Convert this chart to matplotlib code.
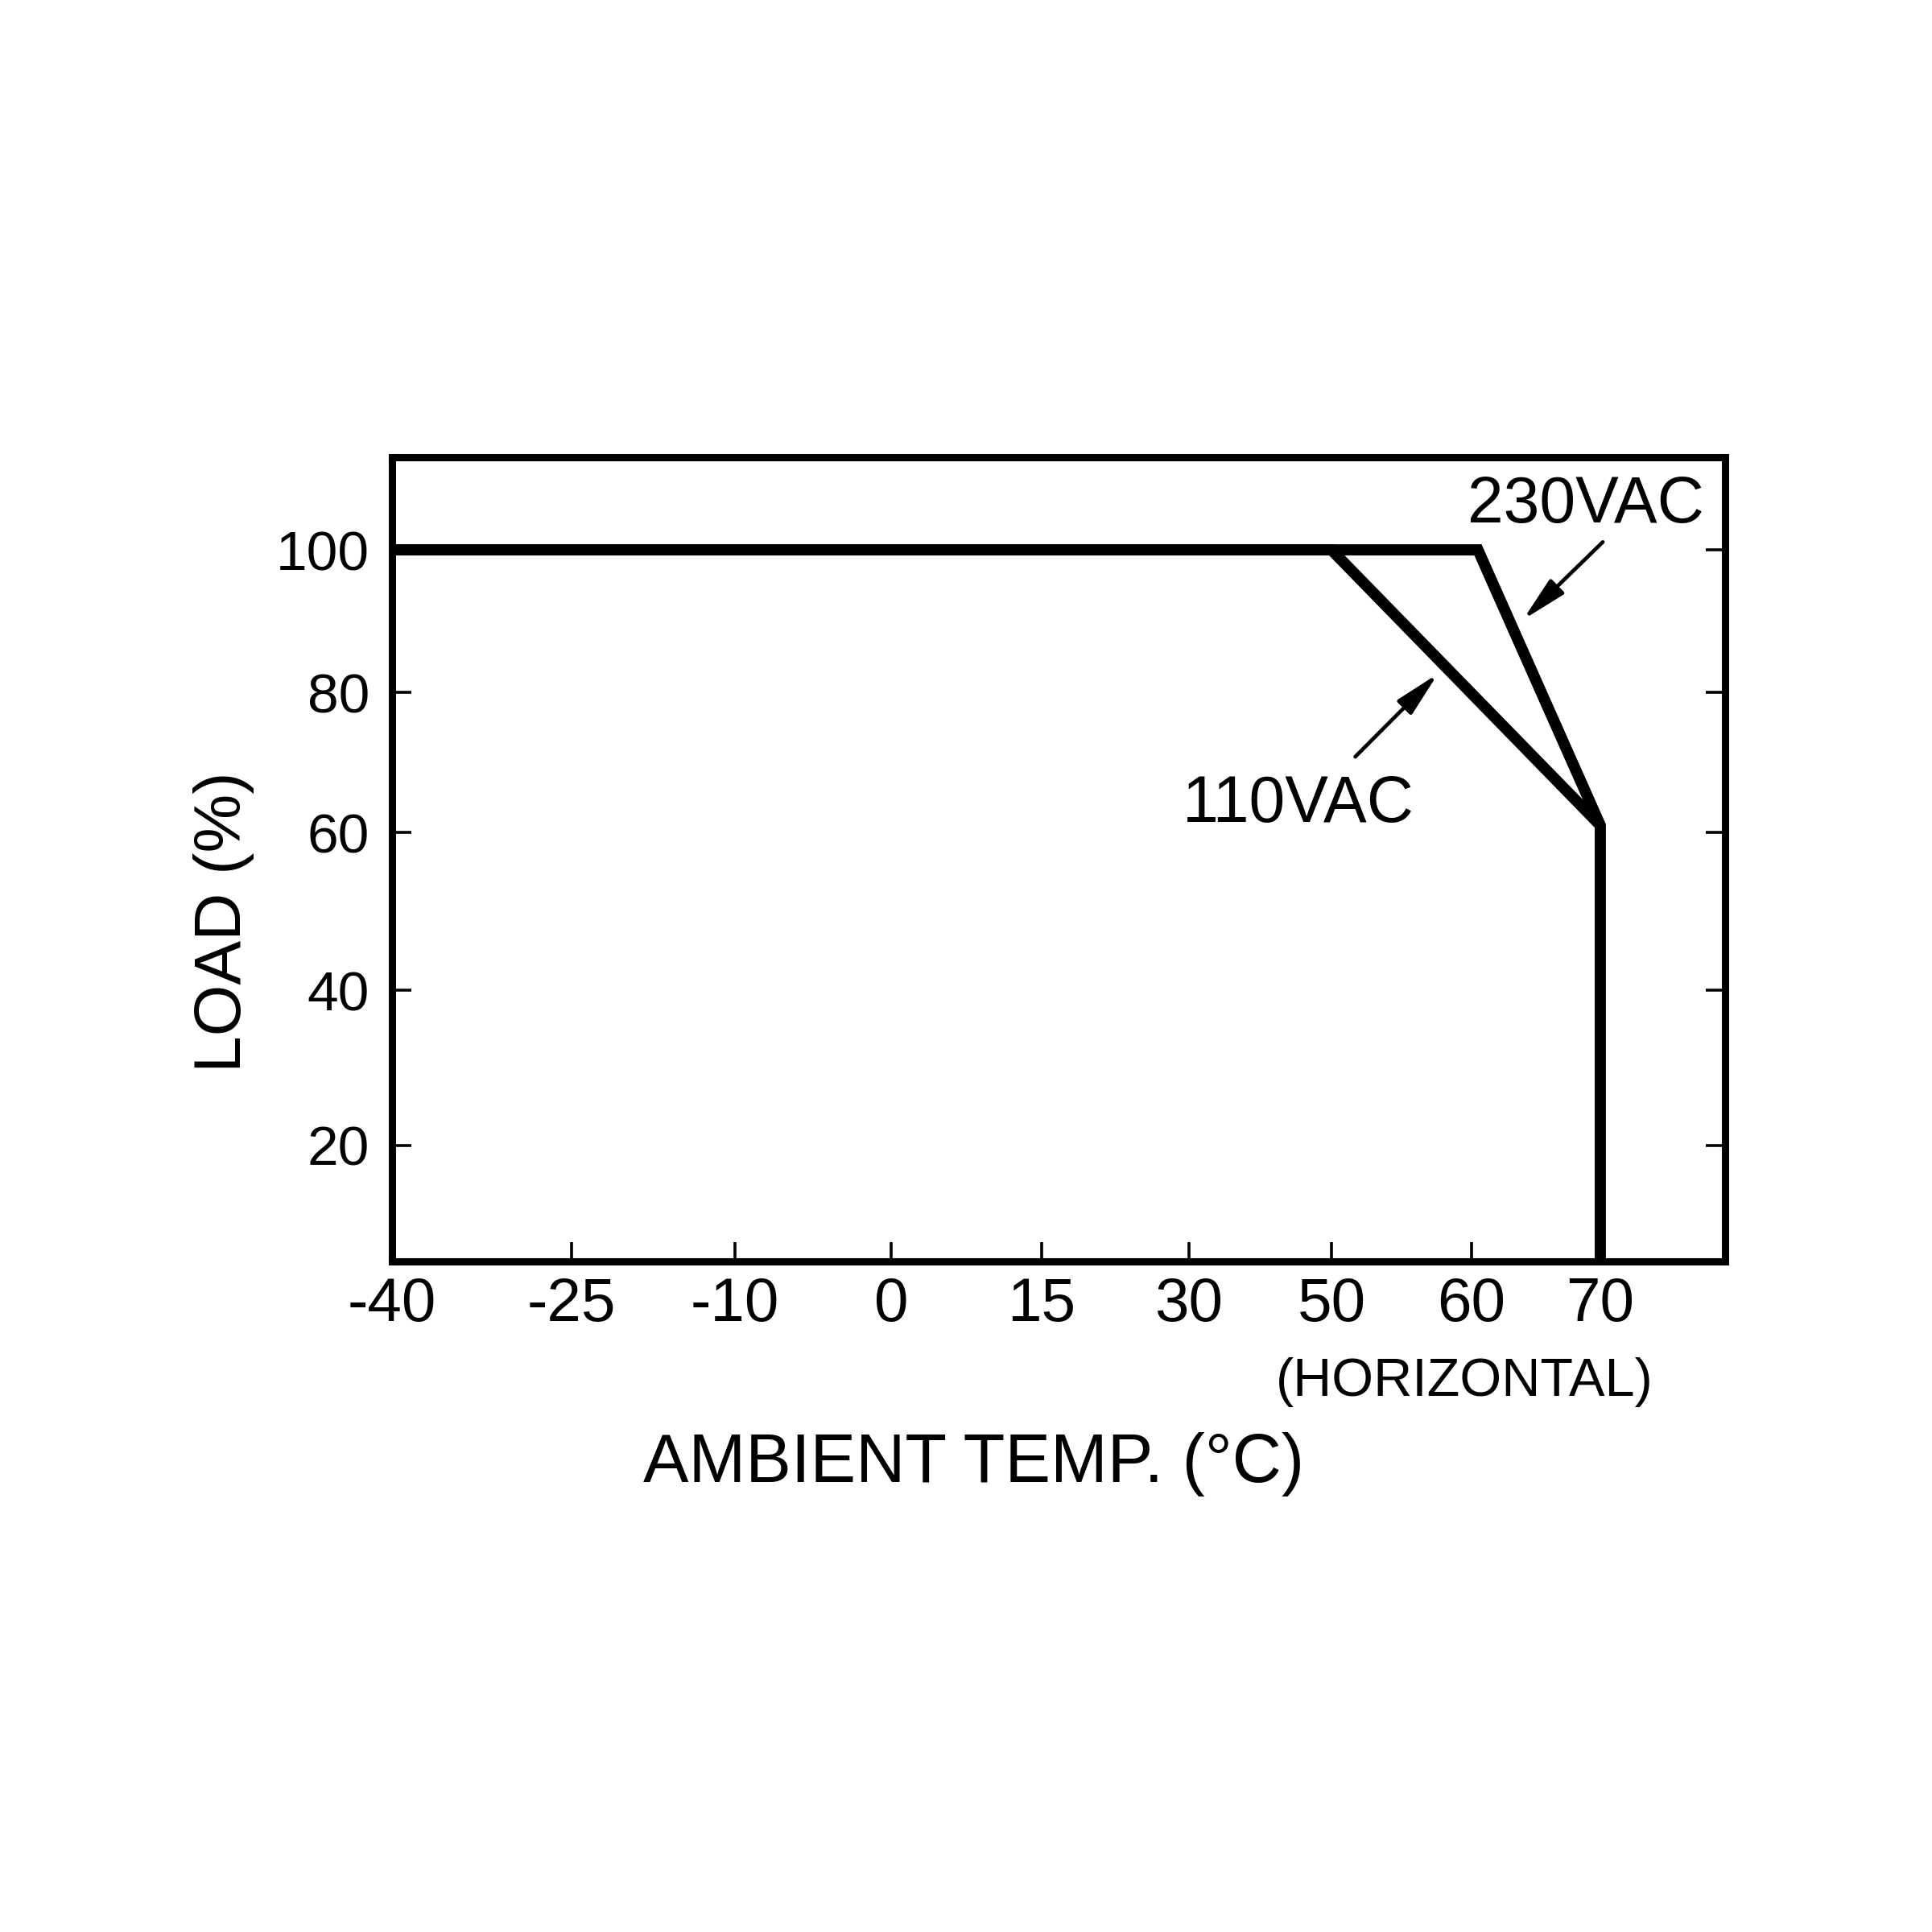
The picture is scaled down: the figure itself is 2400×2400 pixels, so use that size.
import numpy as np
import matplotlib.pyplot as plt

# derating curves (ambient temp in C, load in %)
temp_230 = [-40, 60.5, 70, 70]
load_230 = [100, 100, 61, 0]
temp_110 = [-40, 50, 70]
load_110 = [100, 100, 61]

x_ticks = [-40, -25, -10, 0, 15, 30, 50, 60, 70]
y_ticks = [20, 40, 60, 80, 100]

# the printed axes are not evenly spaced, so map values to where the ticks sit
x_break_vals = [-40, -25, -10, 0, 15, 30, 50, 60, 70, 80]
x_break_pos = [487, 710, 913, 1107, 1294, 1477, 1654, 1828, 1988, 2143]
y_break_vals = [5, 20, 40, 60, 80, 100, 113]
y_break_pos = [-1567, -1423, -1230, -1034, -860, -683, -568]


def x_fwd(v):
    return np.interp(v, x_break_vals, x_break_pos)


def x_inv(p):
    return np.interp(p, x_break_pos, x_break_vals)


def y_fwd(v):
    return np.interp(v, y_break_vals, y_break_pos)


def y_inv(p):
    return np.interp(p, y_break_pos, y_break_vals)


def main():
    plt.rcParams['font.family'] = ['Liberation Sans', 'DejaVu Sans']

    fig = plt.figure(figsize=(24, 24), dpi=100)
    ax = fig.add_axes([0.2029, 0.3471, 0.69, 0.4162])

    ax.set_xscale('function', functions=(x_fwd, x_inv))
    ax.set_yscale('function', functions=(y_fwd, y_inv))
    ax.set_xlim(-40, 80)
    ax.set_ylim(5, 113)

    # curves
    ax.plot(temp_230, load_230, color='black', lw=10,
            solid_joinstyle='miter', solid_capstyle='butt')
    ax.plot(temp_110, load_110, color='black', lw=10,
            solid_joinstyle='miter', solid_capstyle='butt')

    # labels with arrows
    arrow = dict(arrowstyle='-|>,head_length=3.4,head_width=0.75',
                 color='black', lw=3.4, shrinkA=0, shrinkB=0)
    ax.text(68.9, 106.2, '230VAC', fontsize=58, ha='center', va='center')
    ax.annotate('', xy=(64.0, 90.2), xytext=(70.2, 101.1), arrowprops=arrow)
    ax.text(45.3, 63.9, '110VAC', fontsize=58, ha='center', va='center')
    ax.annotate('', xy=(57.6, 82.6), xytext=(51.7, 70.8), arrowprops=arrow)

    # ticks
    ax.set_xticks(x_ticks)
    ax.set_xticklabels([str(t) for t in x_ticks])
    ax.set_yticks(y_ticks)
    ax.set_yticklabels([str(t) for t in y_ticks])
    ax.minorticks_off()
    ax.tick_params(axis='x', direction='in', length=17, width=2.6,
                   labelsize=55, pad=14, top=False)
    ax.tick_params(axis='y', direction='in', length=17, width=2.6,
                   labelsize=50, pad=20, right=True)

    for s in ax.spines.values():
        s.set_linewidth(6.5)

    # axis titles
    fig.text(0.504, 0.2329, 'AMBIENT TEMP. (\u00b0C)', fontsize=61,
             ha='center', va='baseline')
    fig.text(0.758, 0.2775, '(HORIZONTAL)', fontsize=48,
             ha='center', va='baseline')
    fig.text(0.116, 0.523, 'LOAD (%)', fontsize=59, rotation=90,
             ha='center', va='center')

    fig.savefig('out.png', dpi=100, facecolor='white')


if __name__ == "__main__":
    main()
